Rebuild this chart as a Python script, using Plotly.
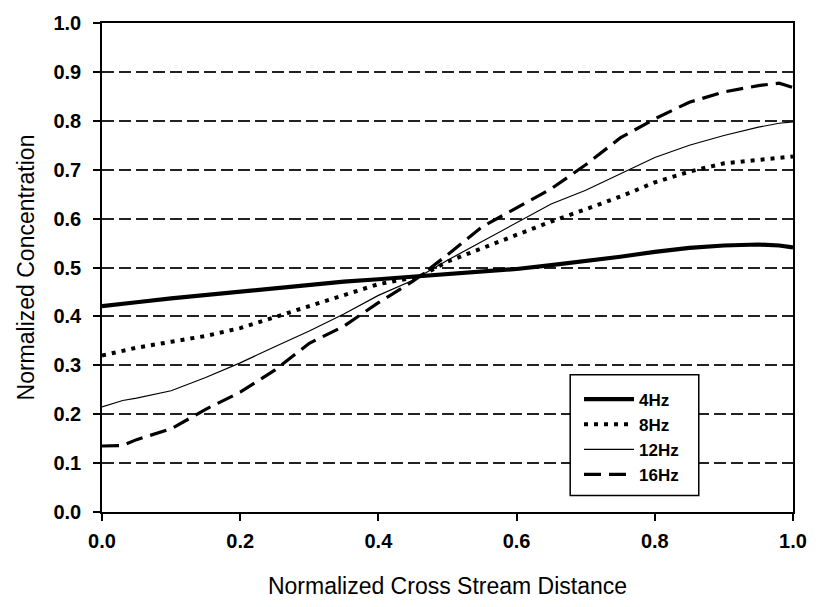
import plotly.graph_objects as go

# Normalized cross stream distance (x) shared by all series
x_vals = [0.0, 0.03, 0.05, 0.1, 0.15, 0.2, 0.25, 0.3, 0.35, 0.4, 0.45, 0.46,
          0.5, 0.55, 0.6, 0.65, 0.7, 0.75, 0.8, 0.85, 0.9, 0.95, 0.98, 1.0]

conc_4hz = [0.421, 0.425, 0.429, 0.437, 0.444, 0.452, 0.458, 0.465, 0.471, 0.476, 0.481, 0.482,
            0.485, 0.490, 0.497, 0.505, 0.513, 0.522, 0.532, 0.540, 0.545, 0.547, 0.545, 0.541]
conc_8hz = [0.320, 0.330, 0.336, 0.348, 0.360, 0.376, 0.398, 0.420, 0.443, 0.466, 0.479, 0.482,
            0.512, 0.540, 0.566, 0.594, 0.619, 0.645, 0.674, 0.696, 0.713, 0.720, 0.725, 0.727]
conc_12hz = [0.215, 0.228, 0.233, 0.248, 0.275, 0.305, 0.338, 0.370, 0.405, 0.443, 0.474, 0.482,
             0.515, 0.553, 0.591, 0.630, 0.658, 0.692, 0.725, 0.750, 0.770, 0.787, 0.795, 0.798]
conc_16hz = [0.135, 0.136, 0.148, 0.170, 0.210, 0.245, 0.290, 0.345, 0.380, 0.428, 0.472, 0.482,
             0.526, 0.583, 0.622, 0.661, 0.710, 0.765, 0.804, 0.838, 0.859, 0.872, 0.877, 0.868]

series_names = ["4Hz", "8Hz", "12Hz", "16Hz"]
x_ticks = [0.0, 0.2, 0.4, 0.6, 0.8, 1.0]
y_ticks = [0.0, 0.1, 0.2, 0.3, 0.4, 0.5, 0.6, 0.7, 0.8, 0.9, 1.0]

FONT = "Liberation Sans, Arial, sans-serif"

styles = [
    dict(color="black", width=4.2, dash="solid"),
    dict(color="black", width=4, dash="4px,6px"),
    dict(color="black", width=1.2, dash="solid"),
    dict(color="black", width=3.2, dash="17px,8px"),
]

fig = go.Figure()
for name, ys, st in zip(series_names, [conc_4hz, conc_8hz, conc_12hz, conc_16hz], styles):
    fig.add_trace(go.Scatter(x=x_vals, y=ys, mode="lines", name=name, line=st))

# legend frame (white box with black border)
fig.add_shape(type="rect", xref="paper", yref="paper",
              x0=(579 - 102) / 704, x1=(710 - 102) / 704,
              y0=(524 - 507) / 506, y1=(524 - 382) / 506,
              line=dict(color="black", width=1.5), fillcolor="white", layer="above")

axis_common = dict(
    showline=True, linecolor="black", linewidth=1.5, mirror=True,
    ticks="outside", ticklen=7, tickcolor="black", tickwidth=1.5,
    zeroline=False, ticklabeloverflow="allow",
    tickfont=dict(family=FONT, size=20, color="black", weight="bold"),
)

fig.update_xaxes(range=[0, 1], tickvals=x_ticks, ticktext=[f"{v:.1f}" for v in x_ticks],
                 showgrid=False,
                 title=dict(text="Normalized Cross Stream Distance",
                            font=dict(family=FONT, size=23, color="black"), standoff=27),
                 ticklabelstandoff=3, **axis_common)
fig.update_yaxes(range=[0, 1], tickvals=y_ticks, ticktext=[f"{v:.1f}" for v in y_ticks],
                 showgrid=True, gridcolor="#222222", gridwidth=1.5, griddash="12px,5px",
                 title=dict(text="Normalized Concentration",
                            font=dict(family=FONT, size=23, color="black"), standoff=12),
                 ticklabelstandoff=8, **axis_common)

fig.update_layout(
    width=819, height=607,
    margin=dict(l=102, r=13, t=18, b=83),
    paper_bgcolor="white", plot_bgcolor="white",
    showlegend=True,
    legend=dict(x=(588 - 102) / 704, y=(524 - 389) / 506, xanchor="left", yanchor="top",
                bgcolor="rgba(0,0,0,0)", borderwidth=0, itemwidth=50,
                font=dict(family=FONT, size=17, color="black", weight="bold")),
    font=dict(family=FONT, color="black"),
)

fig.write_html("out.html", config={"displayModeBar": False},
               post_script="document.body.style.margin='0';")
